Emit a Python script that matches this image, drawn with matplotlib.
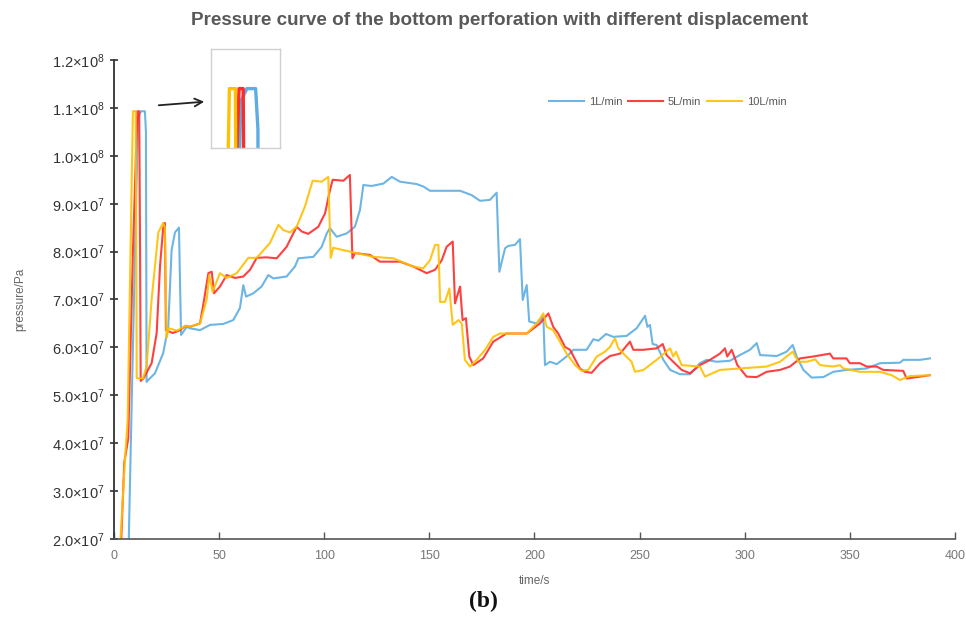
import numpy as np
import matplotlib
matplotlib.use("Agg")
import matplotlib.pyplot as plt
from matplotlib.ticker import FuncFormatter

plt.rcParams['font.family'] = ['Liberation Sans', 'DejaVu Sans']
plt.rcParams['mathtext.fontset'] = 'custom'
plt.rcParams['mathtext.rm'] = 'Liberation Sans'
plt.rcParams['mathtext.it'] = 'Liberation Sans'

# pressure in units of 1e7 Pa, time in s
t_1 = [6.8, 8.5, 10.5, 11.5, 12.8, 14.7, 15.2, 15.5, 17, 19.5, 23.4, 25.8, 27.4, 29, 30.9, 31.9,
       34.6, 36.1, 40.9, 45.7, 52, 56.7, 59.9, 61.5, 62.8, 66.3, 70.2, 73.4, 75.8, 82.1, 86.1,
       87.7, 94.8, 98.8, 101.2, 102.7, 105.9, 110.7, 114.6, 117, 118.6, 122.5, 128.1, 132.1,
       136, 143.9, 147.1, 150.3, 164.6, 170.1, 174.1, 178.8, 182, 183.3, 186, 187.6, 190.7,
       193.1, 194.4, 196.3, 197.5, 201, 204.2, 205, 207.4, 210.6, 216.1, 218.5, 224.8, 228,
       230.4, 234, 237.5, 243.8, 248.6, 252.6, 253.7, 254.9, 256.2, 258.1, 261.3, 264.5,
       269.2, 274, 278.7, 281.9, 286.6, 292.9, 297.7, 302.5, 305.7, 307.3, 315.2, 319.9,
       322.8, 324.7, 327.9, 331.8, 337.4, 342.1, 348.4, 358, 364.3, 373.8, 375.4, 383.4, 388.1]
p_1 = [1.5, 5.0, 9.0, 10.8, 10.93, 10.93, 10.5, 5.28, 5.35, 5.46, 5.88, 6.43, 8.03, 8.4, 8.5, 6.26,
       6.43, 6.4, 6.36, 6.47, 6.49, 6.57, 6.82, 7.3, 7.06, 7.13, 7.27, 7.51, 7.44, 7.48, 7.69,
       7.86, 7.89, 8.1, 8.38, 8.49, 8.31, 8.38, 8.52, 8.87, 9.39, 9.37, 9.42, 9.56,
       9.46, 9.41, 9.36, 9.27, 9.27, 9.18, 9.06, 9.08, 9.23, 7.58, 8.07, 8.12, 8.14,
       8.26, 6.99, 7.3, 6.54, 6.5, 6.64, 5.63, 5.7, 5.65, 5.84, 5.95, 5.95, 6.17,
       6.14, 6.28, 6.22, 6.24, 6.4, 6.66, 6.43, 6.47, 6.07, 6.05, 5.74, 5.53,
       5.44, 5.44, 5.67, 5.74, 5.70, 5.72, 5.84, 5.95, 6.09, 5.84, 5.82, 5.91,
       6.05, 5.81, 5.53, 5.37, 5.38, 5.49, 5.53, 5.56, 5.67, 5.68, 5.74, 5.74, 5.77]

t_5 = [3.0, 4.9, 6.8, 9.0, 11.1, 12.0, 12.4, 12.7, 14, 17.9, 20.3, 21.9, 23.4, 24.2, 24.7, 28, 31,
       34, 36.1, 40.9, 42.5, 44.9, 46.5, 47.6, 50.4, 53.6, 57.6, 61.5, 64.7, 67.9, 72.6, 77.4,
       82.1, 86.9, 89.3, 92.4, 97.2, 100.4, 102.4, 104, 109.1, 112.2, 113.4, 114.6, 121.8,
       126.5, 136, 142.3, 148.7, 152.7, 155.9, 158.2, 161.1, 162.2, 164.6, 165.8, 167.4, 169,
       170.9, 175.6, 180.4, 186.7, 196.3, 202.6, 206.6, 208.9, 211.3, 214.5, 216.9, 221.6,
       224, 227.2, 231.2, 235.9, 240.7, 245.4, 247, 251.8, 258.1, 261, 262.8, 266, 270, 274,
       278.7, 283.5, 288.2, 290.6, 291.7, 293.8, 296.5, 300.9, 305.7, 310.4, 316.8, 321.5,
       326.3, 332.6, 340.5, 342.1, 348.4, 350, 354.8, 358, 362.7, 365.9, 375.4, 377, 383.4, 388.1]
p_5 = [1.5, 3.6, 4.1, 8.0, 10.93, 10.93, 8.0, 5.3, 5.35, 5.67, 6.3, 7.7, 8.5, 8.6, 6.36, 6.3, 6.35,
       6.45, 6.43, 6.5, 6.9, 7.55, 7.58, 7.13, 7.27, 7.51, 7.45, 7.48, 7.62, 7.87, 7.88, 7.86,
       8.1, 8.52, 8.42, 8.37, 8.52, 8.8, 9.22, 9.5, 9.48, 9.6, 7.86, 7.97, 7.93,
       7.79, 7.79, 7.69, 7.55, 7.62, 7.82, 8.1, 8.21, 6.92, 7.27, 6.57, 6.61, 5.81,
       5.63, 5.77, 6.12, 6.29, 6.29, 6.5, 6.71, 6.43, 6.29, 6.01, 5.95, 5.56,
       5.49, 5.47, 5.67, 5.82, 5.87, 6.12, 5.95, 5.95, 5.98, 6.07, 5.84, 5.70, 5.53, 5.46,
       5.63, 5.74, 5.87, 5.98, 5.81, 5.95, 5.63, 5.39, 5.38, 5.49, 5.53, 5.6,
       5.77, 5.81, 5.87, 5.77, 5.77, 5.67, 5.67, 5.6, 5.6, 5.53, 5.51, 5.35, 5.39, 5.42]

t_10 = [2.5, 5.2, 6.5, 9.0, 10.3, 10.6, 10.8, 13.8, 15.5, 17.9, 21.1, 23.4, 24.2, 25, 26, 30, 34,
        36.1, 40.9, 44.1, 45.3, 46.9, 50.4, 53.6, 58.4, 63.9, 67.9, 74.2, 78.2, 80.5, 83.7,
        86.9, 90.8, 94.5, 98.8, 101.9, 103.1, 104.3, 109.1, 115.4, 123.3, 132.8, 142.3,
        147.1, 150.3, 152.7, 154.3, 155.1, 157.4, 159.5, 161.1, 163.8, 165.4, 166.9, 169.3,
        172.5, 176.5, 180.4, 183.6, 189.9, 196.3, 201, 204.2, 205.8, 208.9, 212.1, 215.3,
        219.3, 222.4, 225.6, 229.6, 233.5, 235.9, 238.3, 239.9, 243, 246.2, 247.8, 251.8,
        258.1, 264.5, 266, 267.3, 270, 278.7, 281.1, 288.2, 297.7, 310.4, 316.8, 319.9,
        322.8, 325.5, 329.5, 333.5, 335.8, 342.1, 345.3, 346.9, 354.8, 364.3, 369.9, 373.8,
        378.6, 388.1]
p_10 = [1.5, 3.65, 4.5, 10.93, 10.93, 8.0, 5.36, 5.35, 5.6, 7.0, 8.4, 8.6, 8.5, 6.2, 6.4, 6.35, 6.45,
        6.43, 6.5, 7.0, 7.51, 7.16, 7.55, 7.45, 7.55, 7.87, 7.87, 8.18, 8.56, 8.45, 8.4,
        8.52, 8.94, 9.48, 9.46, 9.56, 7.87, 8.08, 8.03, 7.97, 7.89, 7.86, 7.69,
        7.65, 7.82, 8.14, 8.14, 6.95, 6.95, 7.23, 6.47, 6.57, 6.5, 5.74, 5.6,
        5.74, 5.95, 6.22, 6.29, 6.29, 6.29, 6.5, 6.71, 6.43, 6.36, 6.12, 5.87,
        5.63, 5.51, 5.53, 5.81, 5.91, 6.01, 6.19, 5.98, 5.84, 5.7, 5.49, 5.53,
        5.74, 5.98, 5.81, 5.91, 5.63, 5.6, 5.39, 5.53, 5.56, 5.6, 5.7, 5.81,
        5.91, 5.7, 5.7, 5.75, 5.63, 5.6, 5.63, 5.56, 5.49, 5.49, 5.42, 5.32,
        5.4, 5.42]

labels = ['1L/min', '5L/min', '10L/min']
colors = ['#5dade2', '#ff2b2b', '#ffc000']
y_ticks = [2e7, 3e7, 4e7, 5e7, 6e7, 7e7, 8e7, 9e7, 1e8, 1.1e8, 1.2e8]
x_ticks = [0, 50, 100, 150, 200, 250, 300, 350, 400]

series = [(t_1, p_1), (t_5, p_5), (t_10, p_10)]


def sci_label(v, pos):
    e = int(np.floor(np.log10(v)))
    m = v / 10 ** e
    return f"{m:.1f}×10$^{{\\mathregular{{{e}}}}}$"


fig = plt.figure(figsize=(9.66, 6.35), dpi=100)
ax = fig.add_axes([0.118, 0.1512, 0.8706, 0.7543])

for (t, p), c, lab in zip(series, colors, labels):
    ax.plot(t, np.array(p) * 1e7, color=c, lw=1.5, label=lab, alpha=0.9)

ax.set_xlim(0, 400)
ax.set_ylim(2e7, 1.2e8)
ax.set_xticks(x_ticks)
ax.set_yticks(y_ticks)
ax.yaxis.set_major_formatter(FuncFormatter(sci_label))
ax.tick_params(axis='y', direction='inout', length=6, width=1.2, colors='#333333',
               labelsize=10.5, pad=4)
ax.tick_params(axis='x', direction='in', length=5, width=1, colors='#555555',
               labelsize=9, pad=8, labelcolor='#777777')
for s in ['top', 'right']:
    ax.spines[s].set_visible(False)
ax.spines['left'].set_color('#333333')
ax.spines['left'].set_linewidth(1.3)
ax.spines['bottom'].set_color('#555555')
ax.spines['bottom'].set_linewidth(1.2)

ax.set_ylabel('pressure/Pa', fontsize=8.5, color='#666666')
ax.yaxis.set_label_coords(-0.104, 0.5)
ax.set_xlabel('time/s', fontsize=8.5, color='#666666')
ax.xaxis.set_label_coords(0.5, -0.075)

fig.text(0.517, 0.968, 'Pressure curve of the bottom perforation with different displacement',
         ha='center', va='center', fontsize=13.6, fontweight='bold', color='#595959')

leg = ax.legend(loc='center left', bbox_to_anchor=(0.505, 0.912), ncol=3, frameon=False,
                fontsize=8, handlelength=3.2, handletextpad=0.4, columnspacing=0.5)
for txt in leg.get_texts():
    txt.set_color('#595959')

# zoomed view of the first pressure peak
ins = fig.add_axes([211 / 966, 1 - 148 / 635, 69 / 966, 99 / 635])
for (t, p), c in zip(series, colors):
    ins.plot(t, np.array(p) * 1e7, color=c, lw=2.4)
ins.set_xlim(5, 20)
ins.set_ylim(1.03e8, 1.135e8)
ins.set_xticks([])
ins.set_yticks([])
for s in ins.spines.values():
    s.set_color('#d0d0d0')
    s.set_linewidth(1)

fig.add_artist(matplotlib.patches.FancyArrowPatch(
    (156 / 966, 1 - 105.5 / 635), (207 / 966, 1 - 101.5 / 635),
    transform=fig.transFigure, arrowstyle='->', mutation_scale=14, color='#222222', lw=1.3))

fig.text(0.5, 1 - 601 / 635, '(b)', ha='center', va='center', fontsize=17,
         fontweight='bold', family='Liberation Serif', color='#111111')

fig.savefig('out.png', dpi=100)
